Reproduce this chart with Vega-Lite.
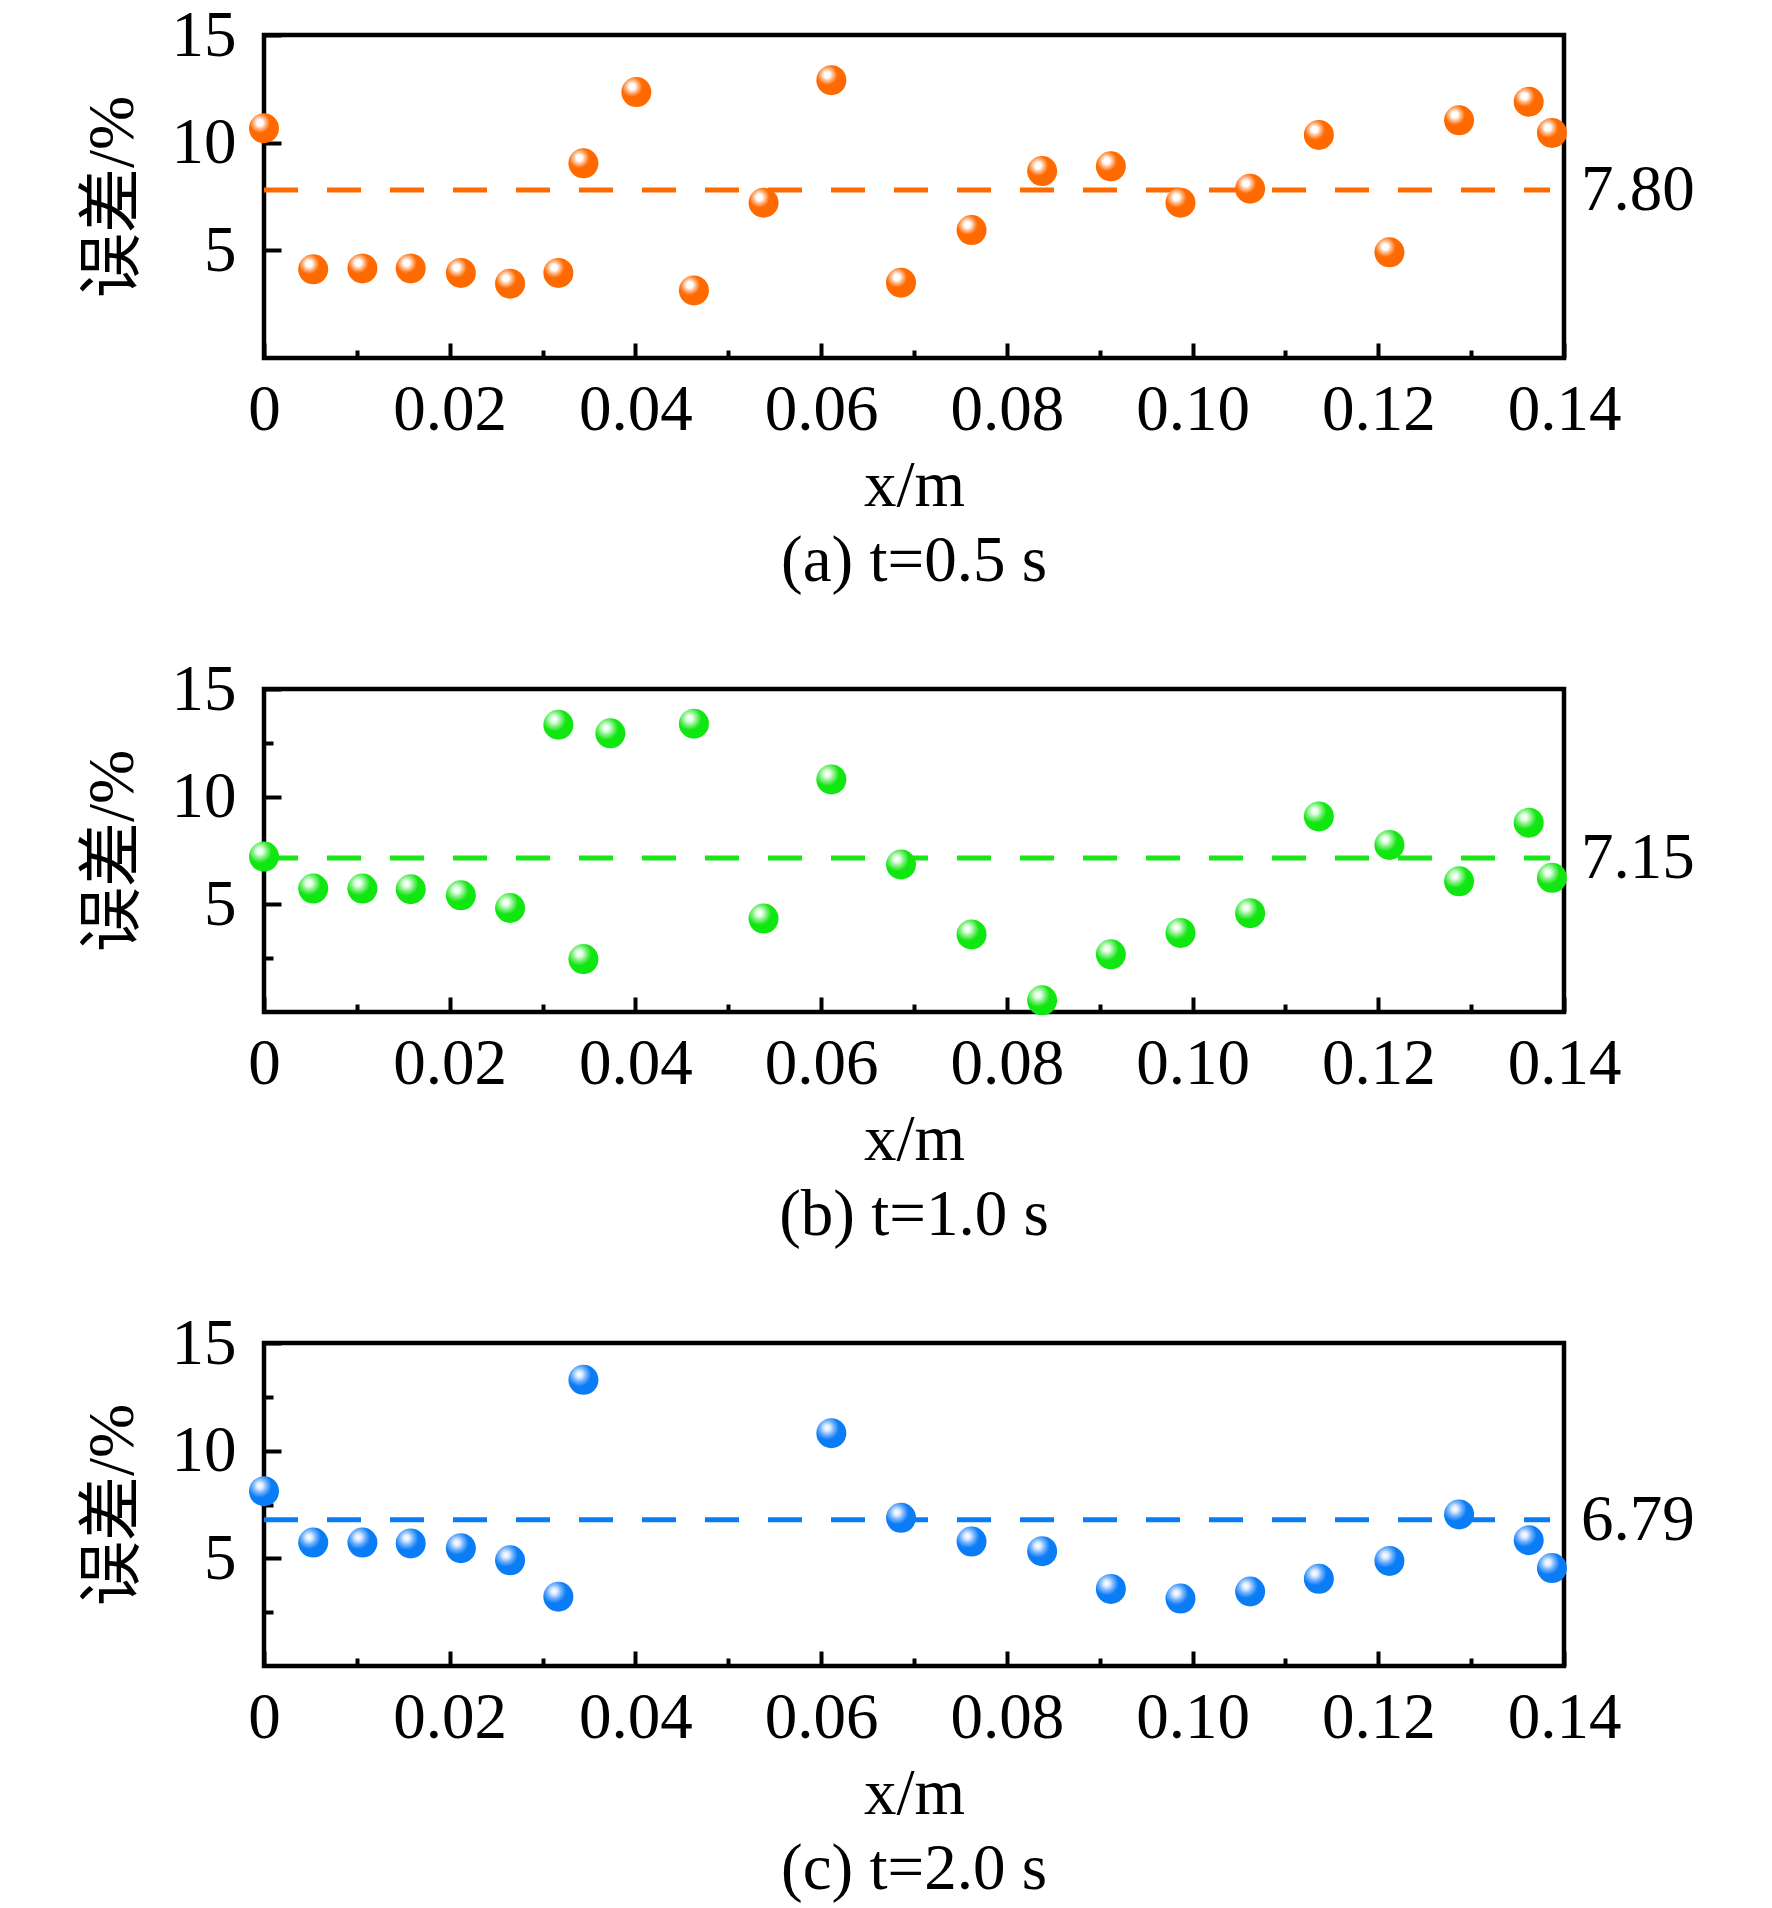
{
  "$schema": "https://vega.github.io/schema/vega-lite/v6.json",
  "padding": {"left": 77, "top": 0, "right": 5, "bottom": 2},
  "background": "white",
  "config": {
    "font": "Liberation Serif",
    "view": {"stroke": "black", "strokeWidth": 4.5},
    "axis": {
      "labelFont": "Liberation Serif",
      "labelFontSize": 65,
      "labelColor": "black",
      "titleFont": "Liberation Serif, Noto Sans CJK SC",
      "titleFontSize": 65,
      "titleFontWeight": "normal",
      "titleColor": "black",
      "tickColor": "black",
      "tickWidth": 4,
      "domain": false,
      "grid": false,
      "labelFlush": false,
      "labelOverlap": false
    },
    "title": {"font": "Liberation Serif", "fontSize": 65, "fontWeight": "normal", "color": "black"},
    "concat": {"spacing": 57}
  },
  "datasets": {
    "a": [
      {"x": 0.0, "err": 10.67}, {"x": 0.0053, "err": 4.12}, {"x": 0.0106, "err": 4.16},
      {"x": 0.0158, "err": 4.16}, {"x": 0.0212, "err": 3.95}, {"x": 0.0265, "err": 3.45},
      {"x": 0.0317, "err": 3.95}, {"x": 0.0344, "err": 9.04}, {"x": 0.0401, "err": 12.35},
      {"x": 0.0463, "err": 3.14}, {"x": 0.0538, "err": 7.21}, {"x": 0.0611, "err": 12.9},
      {"x": 0.0686, "err": 3.5}, {"x": 0.0762, "err": 5.94}, {"x": 0.0838, "err": 8.68},
      {"x": 0.0912, "err": 8.9}, {"x": 0.0987, "err": 7.21}, {"x": 0.1062, "err": 7.86},
      {"x": 0.1136, "err": 10.36}, {"x": 0.1212, "err": 4.91}, {"x": 0.1287, "err": 11.04},
      {"x": 0.1362, "err": 11.9}, {"x": 0.1387, "err": 10.45}
    ],
    "b": [
      {"x": 0.0, "err": 7.22}, {"x": 0.0053, "err": 5.73}, {"x": 0.0106, "err": 5.73},
      {"x": 0.0158, "err": 5.7}, {"x": 0.0212, "err": 5.42}, {"x": 0.0265, "err": 4.83},
      {"x": 0.0317, "err": 13.34}, {"x": 0.0344, "err": 2.46}, {"x": 0.0373, "err": 12.94},
      {"x": 0.0463, "err": 13.39}, {"x": 0.0538, "err": 4.34}, {"x": 0.0611, "err": 10.8},
      {"x": 0.0686, "err": 6.85}, {"x": 0.0762, "err": 3.6}, {"x": 0.0838, "err": 0.54},
      {"x": 0.0912, "err": 2.68}, {"x": 0.0987, "err": 3.67}, {"x": 0.1062, "err": 4.59},
      {"x": 0.1136, "err": 9.08}, {"x": 0.1212, "err": 7.76}, {"x": 0.1287, "err": 6.07},
      {"x": 0.1362, "err": 8.79}, {"x": 0.1387, "err": 6.23}
    ],
    "c": [
      {"x": 0.0, "err": 8.12}, {"x": 0.0053, "err": 5.73}, {"x": 0.0106, "err": 5.73},
      {"x": 0.0158, "err": 5.69}, {"x": 0.0212, "err": 5.47}, {"x": 0.0265, "err": 4.91},
      {"x": 0.0317, "err": 3.22}, {"x": 0.0344, "err": 13.29}, {"x": 0.0611, "err": 10.81},
      {"x": 0.0686, "err": 6.88}, {"x": 0.0762, "err": 5.78}, {"x": 0.0838, "err": 5.33},
      {"x": 0.0912, "err": 3.58}, {"x": 0.0987, "err": 3.13}, {"x": 0.1062, "err": 3.46},
      {"x": 0.1136, "err": 4.05}, {"x": 0.1212, "err": 4.88}, {"x": 0.1287, "err": 7.04},
      {"x": 0.1362, "err": 5.84}, {"x": 0.1387, "err": 4.55}
    ],
    "meanA": [{"x": 0, "x2": 0.1385, "mean": 7.8, "label": "7.80"}],
    "meanB": [{"x": 0, "x2": 0.1385, "mean": 7.15, "label": "7.15"}],
    "meanC": [{"x": 0, "x2": 0.1385, "mean": 6.79, "label": "6.79"}]
  },
  "vconcat": [
    {
      "width": 1300,
      "height": 323,
      "title": {"text": "(a) t=0.5 s", "orient": "bottom", "frame": "group", "anchor": "middle", "offset": 12},
      "layer": [
        {
          "data": {"name": "meanA"},
          "mark": {"type": "rule", "color": "#ff6a00", "strokeWidth": 5, "strokeDash": [34, 29]},
          "encoding": {
            "x": {"field": "x", "type": "quantitative", "scale": {"domain": [0, 0.14], "nice": false},
                  "axis": {"orient": "bottom", "values": [0.01, 0.03, 0.05, 0.07, 0.09, 0.11, 0.13], "tickSize": -8, "labels": false, "title": null}},
            "x2": {"field": "x2"},
            "y": {"field": "mean", "type": "quantitative", "scale": {"domain": [0, 15], "nice": false}, "axis": null}
          }
        },
        {
          "data": {"name": "a"},
          "mark": {"type": "point", "filled": true, "size": 900, "opacity": 1,
                   "fill": {"gradient": "radial", "x1": 0.36, "y1": 0.32, "r1": 0, "x2": 0.36, "y2": 0.32, "r2": 0.34,
                            "stops": [{"offset": 0, "color": "#ffffff"}, {"offset": 0.3, "color": "#ffffff"}, {"offset": 0.6, "color": "#ffb888"}, {"offset": 1, "color": "#ff6a00"}]}},
          "encoding": {
            "x": {"field": "x", "type": "quantitative",
                  "axis": {"orient": "bottom", "values": [0, 0.02, 0.04, 0.06, 0.08, 0.1, 0.12, 0.14], "tickSize": -15, "labelPadding": 35,
                           "labelExpr": "datum.value == 0 ? '0' : format(datum.value, '.2f')", "title": "x/m", "titlePadding": 12}},
            "y": {"field": "err", "type": "quantitative",
                  "axis": {"orient": "left", "values": [5, 10, 15], "tickSize": -17, "labelPadding": 45, "title": "误差/%", "titlePadding": 25}}
          }
        },
        {
          "data": {"name": "meanA"},
          "mark": {"type": "text", "align": "left", "baseline": "middle", "dx": 17, "fontSize": 65, "font": "Liberation Serif", "color": "black"},
          "encoding": {
            "x": {"datum": 0.14, "type": "quantitative", "axis": null},
            "y": {"field": "mean", "type": "quantitative", "axis": null},
            "text": {"field": "label"}
          }
        }
      ],
      "resolve": {"axis": {"x": "independent", "y": "independent"}}
    },
    {
      "width": 1300,
      "height": 323,
      "title": {"text": "(b) t=1.0 s", "orient": "bottom", "frame": "group", "anchor": "middle", "offset": 12},
      "layer": [
        {
          "data": {"name": "meanB"},
          "mark": {"type": "rule", "color": "#18e618", "strokeWidth": 5, "strokeDash": [34, 29]},
          "encoding": {
            "x": {"field": "x", "type": "quantitative", "scale": {"domain": [0, 0.14], "nice": false},
                  "axis": {"orient": "bottom", "values": [0.01, 0.03, 0.05, 0.07, 0.09, 0.11, 0.13], "tickSize": -8, "labels": false, "title": null}},
            "x2": {"field": "x2"},
            "y": {"field": "mean", "type": "quantitative", "scale": {"domain": [0, 15], "nice": false},
                  "axis": {"orient": "left", "values": [2.5, 7.5, 12.5], "tickSize": -9, "labels": false, "title": null}}
          }
        },
        {
          "data": {"name": "b"},
          "mark": {"type": "point", "filled": true, "size": 900, "opacity": 1,
                   "fill": {"gradient": "radial", "x1": 0.36, "y1": 0.32, "r1": 0, "x2": 0.36, "y2": 0.32, "r2": 0.4,
                            "stops": [{"offset": 0, "color": "#ffffff"}, {"offset": 0.25, "color": "#e8ffe8"}, {"offset": 0.6, "color": "#80f080"}, {"offset": 1, "color": "#10e610"}]}},
          "encoding": {
            "x": {"field": "x", "type": "quantitative",
                  "axis": {"orient": "bottom", "values": [0, 0.02, 0.04, 0.06, 0.08, 0.1, 0.12, 0.14], "tickSize": -15, "labelPadding": 35,
                           "labelExpr": "datum.value == 0 ? '0' : format(datum.value, '.2f')", "title": "x/m", "titlePadding": 12}},
            "y": {"field": "err", "type": "quantitative",
                  "axis": {"orient": "left", "values": [5, 10, 15], "tickSize": -17, "labelPadding": 45, "title": "误差/%", "titlePadding": 25}}
          }
        },
        {
          "data": {"name": "meanB"},
          "mark": {"type": "text", "align": "left", "baseline": "middle", "dx": 17, "fontSize": 65, "font": "Liberation Serif", "color": "black"},
          "encoding": {
            "x": {"datum": 0.14, "type": "quantitative", "axis": null},
            "y": {"field": "mean", "type": "quantitative", "axis": null},
            "text": {"field": "label"}
          }
        }
      ],
      "resolve": {"axis": {"x": "independent", "y": "independent"}}
    },
    {
      "width": 1300,
      "height": 323,
      "title": {"text": "(c) t=2.0 s", "orient": "bottom", "frame": "group", "anchor": "middle", "offset": 12},
      "layer": [
        {
          "data": {"name": "meanC"},
          "mark": {"type": "rule", "color": "#0a7cf5", "strokeWidth": 5, "strokeDash": [34, 29]},
          "encoding": {
            "x": {"field": "x", "type": "quantitative", "scale": {"domain": [0, 0.14], "nice": false},
                  "axis": {"orient": "bottom", "values": [0.01, 0.03, 0.05, 0.07, 0.09, 0.11, 0.13], "tickSize": -8, "labels": false, "title": null}},
            "x2": {"field": "x2"},
            "y": {"field": "mean", "type": "quantitative", "scale": {"domain": [0, 15], "nice": false},
                  "axis": {"orient": "left", "values": [2.5, 7.5, 12.5], "tickSize": -9, "labels": false, "title": null}}
          }
        },
        {
          "data": {"name": "c"},
          "mark": {"type": "point", "filled": true, "size": 900, "opacity": 1,
                   "fill": {"gradient": "radial", "x1": 0.36, "y1": 0.32, "r1": 0, "x2": 0.36, "y2": 0.32, "r2": 0.4,
                            "stops": [{"offset": 0, "color": "#ffffff"}, {"offset": 0.25, "color": "#e0eeff"}, {"offset": 0.6, "color": "#70b0ff"}, {"offset": 1, "color": "#0a7cf5"}]}},
          "encoding": {
            "x": {"field": "x", "type": "quantitative",
                  "axis": {"orient": "bottom", "values": [0, 0.02, 0.04, 0.06, 0.08, 0.1, 0.12, 0.14], "tickSize": -15, "labelPadding": 35,
                           "labelExpr": "datum.value == 0 ? '0' : format(datum.value, '.2f')", "title": "x/m", "titlePadding": 12}},
            "y": {"field": "err", "type": "quantitative",
                  "axis": {"orient": "left", "values": [5, 10, 15], "tickSize": -17, "labelPadding": 45, "title": "误差/%", "titlePadding": 25}}
          }
        },
        {
          "data": {"name": "meanC"},
          "mark": {"type": "text", "align": "left", "baseline": "middle", "dx": 17, "fontSize": 65, "font": "Liberation Serif", "color": "black"},
          "encoding": {
            "x": {"datum": 0.14, "type": "quantitative", "axis": null},
            "y": {"field": "mean", "type": "quantitative", "axis": null},
            "text": {"field": "label"}
          }
        }
      ],
      "resolve": {"axis": {"x": "independent", "y": "independent"}}
    }
  ]
}
